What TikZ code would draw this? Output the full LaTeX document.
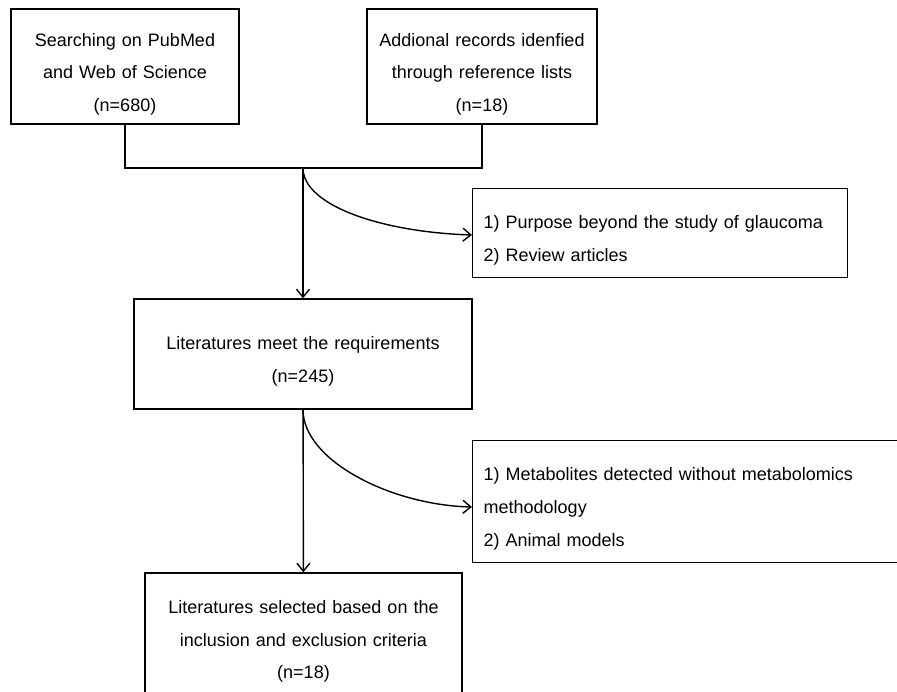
\documentclass[tikz,border=0pt]{standalone}
\usepackage{fontspec}
\setmainfont{Liberation Sans}
\usetikzlibrary{arrows.meta}

\begin{document}
\begin{tikzpicture}[x=1pt, y=-1pt, line width=1.4pt,
  >={Straight Barb[length=8pt, width=13pt]},
  box/.style={draw, align=center, inner sep=0pt,
    font=\fontsize{18}{32.5}\selectfont,
    execute at begin node=\rule{0pt}{28pt}},
  sidebox/.style={draw, align=left, anchor=north west, inner xsep=11pt,
    inner ysep=0pt, font=\fontsize{18}{33}\selectfont,
    execute at begin node=\rule{0pt}{28pt}}]
\useasboundingbox (0,0) rectangle (897,692);
\clip (0,0) rectangle (897,692);
% sources
\node[box, text width=228pt, minimum height=115pt] (search) at (125,66.5)
  {Searching on PubMed\\and Web of Science\\(n=680)};
\node[box, text width=230pt, minimum height=115pt] (records) at (482,66.5)
  {Addional records idenfied\\through reference lists\\(n=18)};
\coordinate (join) at (303,168);
\draw (search.south) |- (join) -| (records.south);
% screening
\node[box, text width=338pt, minimum height=110pt] (meet) at (303,354)
  {Literatures meet the requirements\\(n=245)};
\node[sidebox, text width=353pt, minimum height=89pt] (excl1) at (472,188)
  {1) Purpose beyond the study of glaucoma\\2) Review articles};
\draw[->] (join) -- (meet);
\draw[->] (join) .. controls (303,205) and (380,232) .. (excl1.west |- 0,235);
% final selection
\node[box, text width=317pt, minimum height=122pt] (selected) at (303.5,634)
  {Literatures selected based on the\\inclusion and exclusion criteria\\(n=18)};
\node[sidebox, text width=440pt, minimum height=122pt] (excl2) at (472,440)
  {1) Metabolites detected without metabolomics\\methodology\\2) Animal models};
\draw[->] (meet) -- (selected);
\draw[->] (meet.south) .. controls (303,460) and (390,505) .. (excl2.west |- 0,507);
\end{tikzpicture}
\end{document}
